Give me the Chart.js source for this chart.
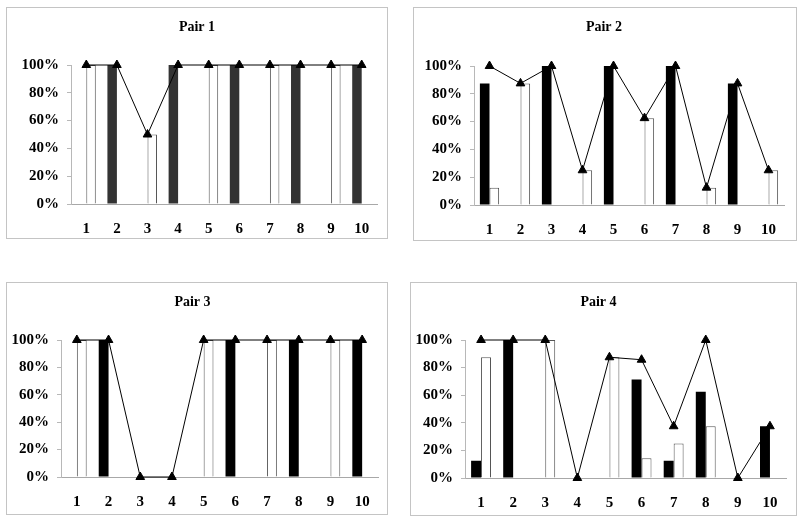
<!DOCTYPE html>
<html>
<head>
<meta charset="utf-8">
<script src="https://cdn.jsdelivr.net/npm/chart.js@4.4.1/dist/chart.umd.min.js"></script>
<style>
  body { margin: 0; background: #fff; width: 800px; height: 520px; position: relative; overflow: hidden; }
  .panel { position: absolute; box-sizing: border-box; border: 1px solid #c4c4c4; background: #fff; }
  .panel canvas { display: block; }
</style>
</head>
<body>
<div class="panel" id="p1" style="left:6px;top:7px;width:382px;height:232px"><canvas id="c1" width="380" height="230"></canvas></div>
<div class="panel" id="p2" style="left:413px;top:7px;width:384px;height:234px"><canvas id="c2" width="382" height="232"></canvas></div>
<div class="panel" id="p3" style="left:6px;top:282px;width:382px;height:233px"><canvas id="c3" width="380" height="231"></canvas></div>
<div class="panel" id="p4" style="left:410px;top:282px;width:387px;height:234px"><canvas id="c4" width="385" height="232"></canvas></div>
<script>
// categories (trial numbers)
const categories = ['1', '2', '3', '4', '5', '6', '7', '8', '9', '10'];
const yTicks = [0, 20, 40, 60, 80, 100];

// Pair 1
const pair1Black = [0, 100, 0, 100, 0, 100, 0, 100, 0, 100];
const pair1White = [100, 0, 50, 0, 100, 0, 100, 0, 100, 0];
const pair1Line = [100, 100, 50, 100, 100, 100, 100, 100, 100, 100];

// Pair 2
const pair2Black = [87.5, 0, 100, 0, 100, 0, 100, 0, 87.5, 0];
const pair2White = [12.5, 87.5, 0, 25, 0, 62.5, 0, 12.5, 0, 25];
const pair2Line = [100, 87.5, 100, 25, 100, 62.5, 100, 12.5, 87.5, 25];

// Pair 3
const pair3Black = [0, 100, 0, 0, 0, 100, 0, 100, 0, 100];
const pair3White = [100, 0, 0, 0, 100, 0, 100, 0, 100, 0];
const pair3Line = [100, 100, 0, 0, 100, 100, 100, 100, 100, 100];

// Pair 4
const pair4Black = [12.5, 100, 0, 0, 0, 71.4, 12.5, 62.5, 0, 37.5];
const pair4White = [87.5, 0, 100, 0, 87.5, 14.3, 25, 37.5, 0, 0];
const pair4Line = [100, 100, 100, 0, 87.5, 85.7, 37.5, 100, 0, 37.5];

const serif = '"Liberation Serif", "Times New Roman", serif';

function makeChart(id, title, darkColor, blackData, whiteData, lineData, lay) {
	const ctx = document.getElementById(id).getContext('2d');
	return new Chart(ctx, {
		type: 'bar',
		data: {
			labels: categories,
			datasets: [
				{
					type: 'line',
					data: lineData,
					borderColor: '#000',
					borderWidth: 1,
					pointStyle: 'triangle',
					pointRadius: 5,
					pointBackgroundColor: '#000',
					pointBorderColor: '#000',
					pointBorderWidth: 1,
					tension: 0,
					clip: false,
					order: 0
				},
				{
					data: blackData,
					backgroundColor: darkColor,
					borderWidth: 0,
					categoryPercentage: 0.62,
					barPercentage: 1,
					order: 1
				},
				{
					data: whiteData,
					backgroundColor: '#fff',
					borderColor: '#555555',
					borderWidth: 1,
					categoryPercentage: 0.62,
					barPercentage: 1,
					order: 1
				}
			]
		},
		options: {
			responsive: false,
			animation: false,
			devicePixelRatio: 1,
			layout: { padding: { left: lay.left, right: lay.right, top: 0, bottom: 0 } },
			plugins: {
				legend: { display: false },
				tooltip: { enabled: false },
				title: {
					display: true,
					text: title,
					color: '#000',
					font: { family: serif, size: 14, weight: 'bold' },
					padding: { top: lay.titleTop, bottom: lay.titleBottom }
				}
			},
			scales: {
				x: {
					grid: { display: false, drawTicks: false },
					border: { display: true, color: '#a8a8a8' },
					ticks: { color: '#000', padding: 16, font: { family: serif, size: 15, weight: 'bold' } },
					afterFit: (scale) => { scale.height = lay.xHeight; }
				},
				y: {
					min: 0,
					max: 100,
					afterBuildTicks: (scale) => { scale.ticks = yTicks.map(v => ({ value: v })); },
					grid: { drawOnChartArea: false, drawTicks: true, tickLength: 4, color: '#b8b8b8' },
					border: { display: true, color: '#b8b8b8' },
					ticks: {
						color: '#000',
						padding: 8,
						font: { family: serif, size: 15, weight: 'bold' },
						callback: (v) => v + '%'
					},
					afterFit: (scale) => { scale.width = lay.yWidth; }
				}
			}
		}
	});
}

makeChart('c1', 'Pair 1', '#333333', pair1Black, pair1White, pair1Line,
	{ left: 10, right: 10, yWidth: 54, xHeight: 34, titleTop: 11, titleBottom: 29.2 });
makeChart('c2', 'Pair 2', '#000000', pair2Black, pair2White, pair2Line,
	{ left: 10, right: 12, yWidth: 50, xHeight: 35, titleTop: 11, titleBottom: 30.2 });
makeChart('c3', 'Pair 3', '#000000', pair3Black, pair3White, pair3Line,
	{ left: 0, right: 9, yWidth: 54, xHeight: 37, titleTop: 11, titleBottom: 29.2 });
makeChart('c4', 'Pair 4', '#000000', pair4Black, pair4White, pair4Line,
	{ left: 0, right: 10, yWidth: 54, xHeight: 37, titleTop: 11, titleBottom: 29.2 });
</script>
</body>
</html>
